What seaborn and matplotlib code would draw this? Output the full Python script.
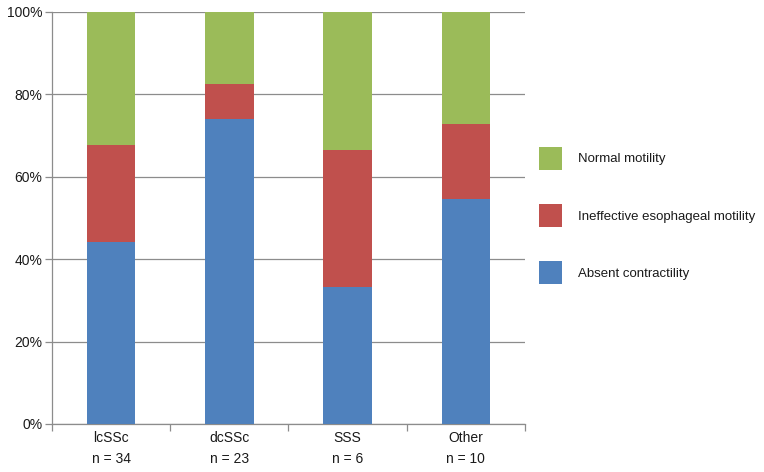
import numpy as np
import pandas as pd
import seaborn as sns
import matplotlib.pyplot as plt
from matplotlib.patches import Patch

# --- Data (percent of patients) ---
groups = ['lcSSc', 'dcSSc', 'SSS', 'Other']
group_n = [34, 23, 6, 10]
absent = [44.1, 73.9, 33.3, 54.5]
ineffective = [23.5, 8.7, 33.3, 18.2]
normal = [32.4, 17.4, 33.4, 27.3]

series_names = ['Normal motility', 'Ineffective esophageal motility', 'Absent contractility']
series_colors = ['#9BBB59', '#C0504D', '#4F81BD']

sns.set_theme(style='white')
plt.rcParams['font.family'] = ['Liberation Sans', 'DejaVu Sans']

df = pd.DataFrame({
    'group': groups,
    'absent': absent,
    'ineffective': ineffective,
    'normal': normal,
})
df['top_ineff'] = df['absent'] + df['ineffective']
df['top_normal'] = df['top_ineff'] + df['normal']

fig = plt.figure(figsize=(7.64, 4.72), dpi=100)
ax = fig.add_axes([0.068, 0.1017, 0.619, 0.873])

# stacked bars: draw the tallest layer first
for col, color in [('top_normal', series_colors[0]),
                   ('top_ineff', series_colors[1]),
                   ('absent', series_colors[2])]:
    sns.barplot(data=df, x='group', y=col, color=color, width=0.41,
                saturation=1, linewidth=0, edgecolor='none', ax=ax, zorder=3)

ax.set_ylim(0, 100)
ax.set_xlim(-0.5, len(groups) - 0.5)
ax.set_yticks(np.arange(0, 101, 20))
ax.set_yticklabels([f'{v}%' for v in range(0, 101, 20)], fontsize=10,
                   color='#1a1a1a')
ax.set_xticks(range(len(groups)))
ax.set_xticklabels([f'{g}\nn = {n}' for g, n in zip(groups, group_n)],
                   fontsize=10, linespacing=1.6, color='#1a1a1a')
ax.set_xlabel('')
ax.set_ylabel('')

# gridlines and axes in Excel-ish gray
ax.yaxis.grid(True, color='#8C8C8C', linewidth=0.9, zorder=0)
ax.set_axisbelow(True)
for s in ['top', 'right']:
    ax.spines[s].set_visible(False)
for s in ['left', 'bottom']:
    ax.spines[s].set_color('#8C8C8C')
    ax.spines[s].set_linewidth(0.9)

ax.tick_params(axis='y', which='both', left=True, length=5, color='#8C8C8C',
               width=0.9, pad=2)
ax.tick_params(axis='x', which='major', length=0, pad=5)
# category separator ticks on x axis
ax.set_xticks(np.arange(-0.5, len(groups) + 0.5, 1), minor=True)
ax.tick_params(axis='x', which='minor', bottom=True, length=5,
               color='#8C8C8C', width=0.9)

handles = [Patch(facecolor=c, edgecolor='none') for c in series_colors]
leg = fig.legend(handles, series_names, loc='upper left',
                 bbox_to_anchor=(0.690, 0.714), frameon=False, fontsize=9.5,
                 handlelength=1.75, handleheight=2.3, labelspacing=2.6,
                 handletextpad=1.2)
for t in leg.get_texts():
    t.set_color('#1a1a1a')

fig.savefig('out.png', dpi=100)
